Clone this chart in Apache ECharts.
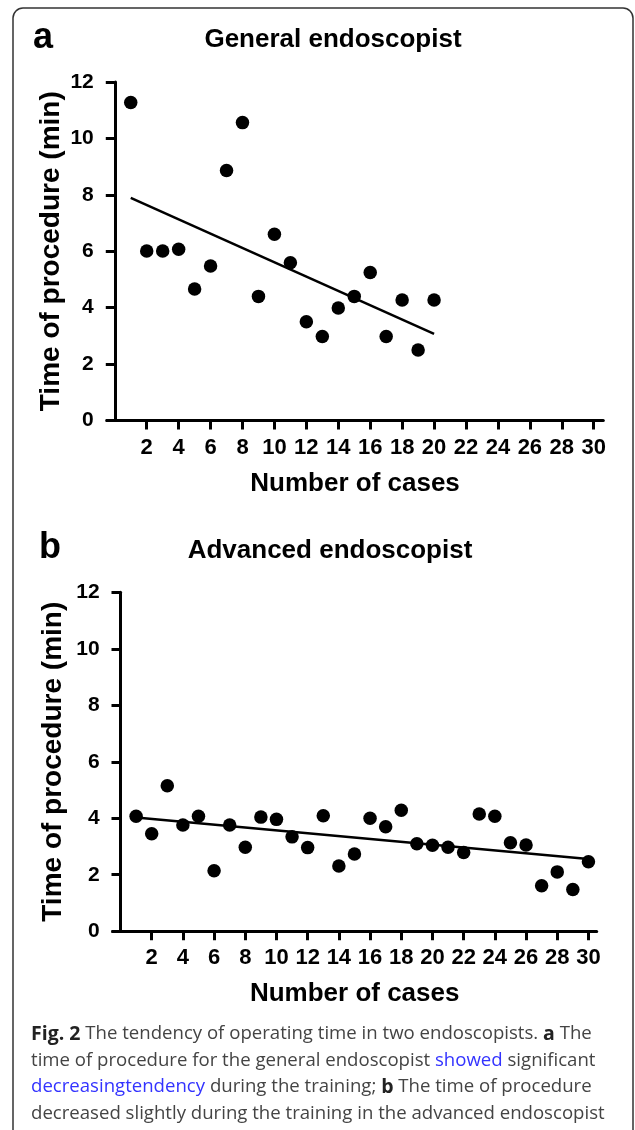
<!DOCTYPE html>
<html><head><meta charset="utf-8">
<script src="https://cdn.jsdelivr.net/npm/echarts@6/dist/echarts.min.js"></script>
<style>html,body{margin:0;padding:0;background:#fff}#c{width:635px;height:1130px}</style>
</head><body><div id="c"></div>
<script>
// ---- data ----
const casesA = [1,2,3,4,5,6,7,8,9,10,11,12,13,14,15,16,17,18,19,20];
const timeA  = [11.27,6.01,6.01,6.07,4.66,5.48,8.86,10.56,4.40,6.60,5.59,3.50,2.98,3.99,4.40,5.25,2.98,4.27,2.50,4.27];
const casesB = [1,2,3,4,5,6,7,8,9,10,11,12,13,14,15,16,17,18,19,20,21,22,23,24,25,26,27,28,29,30];
const timeB  = [4.07,3.45,5.15,3.76,4.07,2.14,3.76,2.97,4.04,3.96,3.34,2.96,4.09,2.31,2.73,4.00,3.70,4.28,3.10,3.04,2.97,2.79,4.15,4.07,3.13,3.05,1.61,2.10,1.48,2.46];
const yTicks = [0,2,4,6,8,10,12];
const xTicks = [2,4,6,8,10,12,14,16,18,20,22,24,26,28,30];
const panelTitles = ['General endoscopist','Advanced endoscopist'];
const panelLetters = ['a','b'];
const xName = 'Number of cases';
const yName = 'Time of procedure (min)';

function fit(xs, ys){
  const n = xs.length;
  const mx = xs.reduce((a,b)=>a+b,0)/n, my = ys.reduce((a,b)=>a+b,0)/n;
  let sxy=0, sxx=0;
  for(let i=0;i<n;i++){ sxy+=(xs[i]-mx)*(ys[i]-my); sxx+=(xs[i]-mx)*(xs[i]-mx); }
  const k = sxy/sxx, b = my-k*mx;
  const x0 = xs[0], x1 = xs[n-1];
  return [[x0, k*x0+b],[x1, k*x1+b]];
}

const FONT = '"Liberation Sans", Arial, Helvetica, sans-serif';
const CAPFONT = '"Open Sans", sans-serif';
const chart = echarts.init(document.getElementById('c'), null, {renderer:'canvas'});

function xAxisCfg(gi, max){
  return {
    gridIndex: gi, type:'value', min:-0.5, max: max,
    axisLine:{show:true, onZero:true, lineStyle:{color:'#000', width:3}},
    axisTick:{show:true, length:9, lineStyle:{color:'#000', width:3}, customValues: xTicks},
    axisLabel:{show:true, customValues: xTicks, margin:16, color:'#000', fontFamily:FONT, fontWeight:'bold', fontSize:22},
    splitLine:{show:false},
    name: xName, nameLocation:'middle', nameGap:50, nameMoveOverlap:false,
    nameTextStyle:{color:'#000', fontFamily:FONT, fontWeight:'bold', fontSize:26}
  };
}
function yAxisCfg(gi, gap){
  return {
    gridIndex: gi, type:'value', min:0, max:12, interval:2,
    axisLine:{show:true, onZero:true, lineStyle:{color:'#000', width:3}},
    axisTick:{show:true, length:9, lineStyle:{color:'#000', width:3}},
    axisLabel:{show:true, margin:13, color:'#000', fontFamily:FONT, fontWeight:'bold', fontSize:21,
      formatter: v => yTicks.indexOf(v) >= 0 ? String(v) : ''},
    splitLine:{show:false},
    name: yName, nameLocation:'middle', nameGap:gap, nameMoveOverlap:false,
    nameTextStyle:{color:'#000', fontFamily:FONT, fontWeight:'bold', fontSize:28}
  };
}

const captionLines = [
  '{b|Fig. 2} The tendency of operating time in two endoscopists. {b|a} The',
  'time of procedure for the general endoscopist {l|showed} significant',
  '{l|decreasingtendency} during the training; {b|b} The time of procedure',
  'decreased slightly during the training in the advanced endoscopist'
];
const capRich = {
  b:{fontWeight:'bold', fill:'#222', color:'#222', fontFamily:CAPFONT, fontSize:19.5},
  l:{fill:'#3333ff', color:'#3333ff', fontFamily:CAPFONT, fontSize:18.6}
};

const graphics = [
  {type:'rect', shape:{x:13, y:8, width:620, height:1150, r:10}, style:{fill:'none', stroke:'#333', lineWidth:1.5}, z:-1},
  {type:'text', left:33, top:20, style:{text:panelLetters[0], font:'bold 36px '+FONT, fill:'#000'}},
  {type:'text', x:333, y:40, style:{text:panelTitles[0], font:'bold 26px '+FONT, fill:'#000', align:'center', verticalAlign:'middle'}},
  {type:'text', left:39, top:530, style:{text:panelLetters[1], font:'bold 36px '+FONT, fill:'#000'}},
  {type:'text', x:330, y:551, style:{text:panelTitles[1], font:'bold 26px '+FONT, fill:'#000', align:'center', verticalAlign:'middle'}}
];
captionLines.forEach((t,i)=>{
  graphics.push({type:'text', x:31, y:1034 + i*26.5, style:{text:t, rich:capRich, fill:'#444', font:'18.6px '+CAPFONT, verticalAlign:'middle'}});
});

chart.setOption({
  animation:false,
  backgroundColor:'#fff',
  grid:[
    {left:106.8, top:82, width:496.5, height:338.5},
    {left:112.7, top:592.3, width:484, height:338.9}
  ],
  xAxis:[ xAxisCfg(0, 30.6), xAxisCfg(1, 30.53) ],
  yAxis:[ yAxisCfg(0, 42), yAxisCfg(1, 45) ],
  series:[
    {type:'line', xAxisIndex:0, yAxisIndex:0, data: fit(casesA, timeA), symbol:'none', lineStyle:{color:'#000', width:2.5}, z:2},
    {type:'scatter', xAxisIndex:0, yAxisIndex:0, data: casesA.map((c,i)=>[c, timeA[i]]), symbolSize:13.5, itemStyle:{color:'#000', opacity:1}, z:3},
    {type:'line', xAxisIndex:1, yAxisIndex:1, data: fit(casesB, timeB), symbol:'none', lineStyle:{color:'#000', width:2.5}, z:2},
    {type:'scatter', xAxisIndex:1, yAxisIndex:1, data: casesB.map((c,i)=>[c, timeB[i]]), symbolSize:13.5, itemStyle:{color:'#000', opacity:1}, z:3}
  ],
  graphic: graphics
});
</script></body></html>
